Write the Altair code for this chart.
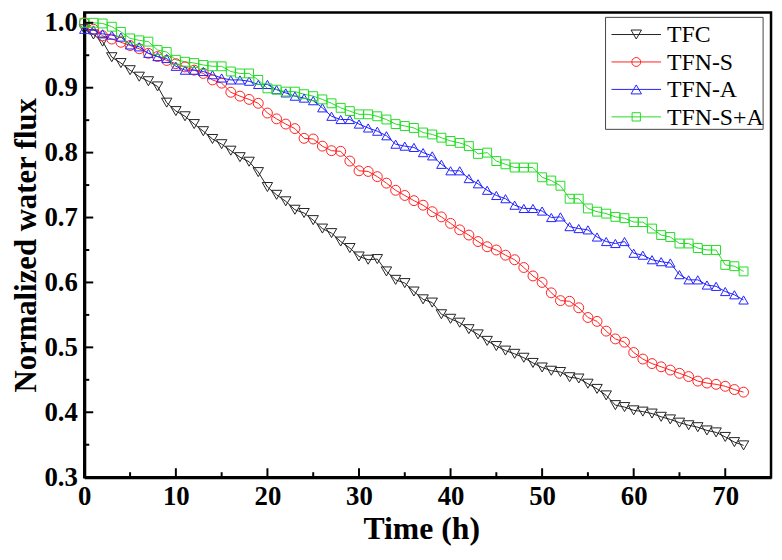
import altair as alt
import pandas as pd

hours = list(range(0, 73))

tfc = [0.990, 0.982, 0.971, 0.947, 0.938, 0.927, 0.917, 0.910, 0.902, 0.877,
       0.864, 0.856, 0.844, 0.833, 0.821, 0.813, 0.803, 0.793, 0.786, 0.770,
       0.747, 0.735, 0.725, 0.712, 0.707, 0.696, 0.683, 0.676, 0.663, 0.653,
       0.640, 0.635, 0.636, 0.617, 0.604, 0.599, 0.586, 0.574, 0.569, 0.551,
       0.544, 0.538, 0.528, 0.520, 0.510, 0.502, 0.495, 0.490, 0.484, 0.476,
       0.469, 0.464, 0.462, 0.454, 0.452, 0.444, 0.436, 0.426, 0.411, 0.408,
       0.403, 0.401, 0.398, 0.393, 0.389, 0.384, 0.380, 0.377, 0.372, 0.369,
       0.362, 0.354, 0.349]

tfn_s = [1.000, 0.990, 0.980, 0.975, 0.970, 0.965, 0.960, 0.953, 0.948, 0.942,
         0.937, 0.932, 0.927, 0.922, 0.912, 0.907, 0.893, 0.887, 0.882, 0.876,
         0.861, 0.852, 0.844, 0.837, 0.822, 0.821, 0.810, 0.803, 0.802, 0.787,
         0.772, 0.771, 0.763, 0.753, 0.742, 0.734, 0.726, 0.719, 0.709, 0.701,
         0.691, 0.681, 0.673, 0.663, 0.655, 0.650, 0.642, 0.635, 0.623, 0.610,
         0.600, 0.584, 0.572, 0.571, 0.561, 0.546, 0.540, 0.525, 0.513, 0.508,
         0.492, 0.482, 0.475, 0.470, 0.465, 0.460, 0.455, 0.448, 0.445, 0.443,
         0.440, 0.435, 0.431]

tfn_a = [0.990, 0.989, 0.983, 0.981, 0.978, 0.966, 0.963, 0.953, 0.948, 0.945,
         0.933, 0.927, 0.927, 0.925, 0.920, 0.915, 0.912, 0.912, 0.910, 0.905,
         0.905, 0.897, 0.892, 0.887, 0.884, 0.880, 0.869, 0.856, 0.851, 0.851,
         0.844, 0.838, 0.833, 0.826, 0.813, 0.810, 0.808, 0.800, 0.795, 0.782,
         0.772, 0.772, 0.760, 0.752, 0.742, 0.734, 0.729, 0.719, 0.714, 0.714,
         0.710, 0.700, 0.701, 0.686, 0.683, 0.681, 0.670, 0.663, 0.660, 0.663,
         0.645, 0.642, 0.635, 0.632, 0.630, 0.612, 0.604, 0.604, 0.596, 0.594,
         0.586, 0.581, 0.573]

tfn_sa = [1.000, 1.000, 0.999, 0.994, 0.986, 0.976, 0.973, 0.971, 0.958, 0.955,
          0.943, 0.940, 0.938, 0.935, 0.933, 0.933, 0.925, 0.922, 0.922, 0.912,
          0.899, 0.897, 0.894, 0.894, 0.890, 0.887, 0.882, 0.876, 0.869, 0.864,
          0.859, 0.859, 0.856, 0.851, 0.844, 0.841, 0.838, 0.831, 0.828, 0.823,
          0.818, 0.815, 0.810, 0.798, 0.800, 0.787, 0.782, 0.777, 0.777, 0.777,
          0.762, 0.757, 0.749, 0.729, 0.729, 0.714, 0.709, 0.706, 0.701, 0.699,
          0.693, 0.693, 0.683, 0.673, 0.670, 0.660, 0.660, 0.653, 0.650, 0.650,
          0.627, 0.625, 0.617]

series_names = ["TFC", "TFN-S", "TFN-A", "TFN-S+A"]
series_values = [tfc, tfn_s, tfn_a, tfn_sa]
series_colors = ["#222222", "#ff2020", "#2020ff", "#22dd22"]
series_shapes = ["triangle-down", "circle", "triangle-up", "square"]
series_sizes = [110, 80, 110, 70]

x_major = [0, 10, 20, 30, 40, 50, 60, 70]
x_minor = [5, 15, 25, 35, 45, 55, 65]
y_major = [0.3, 0.4, 0.5, 0.6, 0.7, 0.8, 0.9, 1.0]
y_minor = [0.35, 0.45, 0.55, 0.65, 0.75, 0.85, 0.95]

W, H = 693, 469
FONT = "Liberation Serif"

rows = []
for name, vals in zip(series_names, series_values):
    for h, v in zip(hours, vals):
        rows.append({"hour": h, "value": v, "series": name})
df = pd.DataFrame(rows)

xscale = alt.Scale(domain=[0, 75], nice=False, zero=False)
yscale = alt.Scale(domain=[0.3, 1.016], nice=False, zero=False)
color = alt.Color("series:N", scale=alt.Scale(domain=series_names, range=series_colors), legend=None)

x_axis = alt.Axis(values=x_major, format="d", title="Time (h)", grid=False, ticks=False,
                  labelFont=FONT, labelFontWeight="bold", labelFontSize=27, labelColor="black",
                  labelPadding=7, labelFlush=False, domainColor="black", domainWidth=3,
                  titleFont=FONT, titleFontWeight="bold", titleFontSize=32, titleColor="black",
                  titleX=340, titleY=62, titleBaseline="alphabetic", titleAlign="center")
y_axis = alt.Axis(values=y_major, format=".1f", title="Normalized water flux", grid=False, ticks=False,
                  labelFont=FONT, labelFontWeight="bold", labelFontSize=27, labelColor="black",
                  labelPadding=7, labelFlush=False, domainColor="black", domainWidth=3,
                  titleFont=FONT, titleFontWeight="bold", titleFontSize=31, titleColor="black",
                  titleX=-58, titleY=H / 2, titleAngle=270, titleBaseline="middle", titleAlign="center")

base = alt.Chart(df)
lines = base.mark_line(strokeWidth=1).encode(
    x=alt.X("hour:Q", scale=xscale, axis=x_axis),
    y=alt.Y("value:Q", scale=yscale, axis=y_axis),
    color=color,
    detail="series:N",
)
points = base.mark_point(filled=False, strokeWidth=1, opacity=1).encode(
    x=alt.X("hour:Q", scale=xscale, axis=x_axis),
    y=alt.Y("value:Q", scale=yscale, axis=y_axis),
    color=color,
    shape=alt.Shape("series:N", scale=alt.Scale(domain=series_names, range=series_shapes), legend=None),
    size=alt.Size("series:N", scale=alt.Scale(domain=series_names, range=series_sizes), legend=None),
)

def xticks(vals, length):
    return alt.Chart(pd.DataFrame({"hour": vals})).mark_rule(color="black", strokeWidth=2).encode(
        x=alt.X("hour:Q", scale=xscale, axis=x_axis), y=alt.value(H), y2=alt.value(H - length))

def yticks(vals, length):
    return alt.Chart(pd.DataFrame({"value": vals})).mark_rule(color="black", strokeWidth=2).encode(
        y=alt.Y("value:Q", scale=yscale, axis=y_axis), x=alt.value(0), x2=alt.value(length))

layers = [lines, points, xticks(x_major, 9), xticks(x_minor, 5), yticks(y_major, 9), yticks(y_minor, 5)]

# legend
box = alt.Chart(pd.DataFrame({"k": [0]})).mark_rect(fill="white", stroke="#444444", strokeWidth=1).encode(
    x=alt.value(526), x2=alt.value(685), y=alt.value(5), y2=alt.value(118))
layers.append(box)
for i, name in enumerate(series_names):
    ly = 22.3 + 27.7 * i
    one = pd.DataFrame({"series": [name]})
    layers.append(alt.Chart(one).mark_rule(color=series_colors[i], strokeWidth=1).encode(
        x=alt.value(532), x2=alt.value(582), y=alt.value(ly)))
    layers.append(alt.Chart(one).mark_point(filled=False, strokeWidth=1, color=series_colors[i],
                                            shape=series_shapes[i], size=series_sizes[i], opacity=1).encode(
        x=alt.value(557), y=alt.value(ly)))
    layers.append(alt.Chart(one).mark_text(font=FONT, fontSize=24, color="black", align="left",
                                           baseline="middle").encode(
        x=alt.value(588), y=alt.value(ly + 1), text="series:N"))

chart = alt.layer(*layers).properties(
    width=W, height=H,
    padding={"left": 77, "top": 2, "right": 3, "bottom": 67},
    autosize=alt.AutoSizeParams(type="none"),
    background="white",
).configure_view(stroke="black", strokeWidth=2.5)

chart.save("out.html", embed_options={"renderer": "svg", "actions": False})
